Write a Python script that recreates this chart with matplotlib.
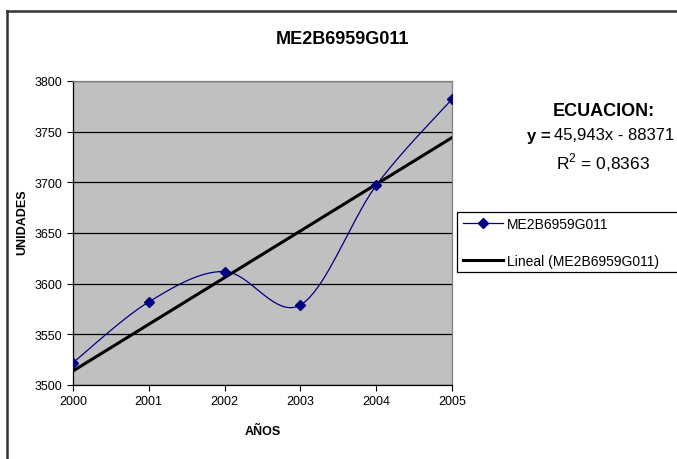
import numpy as np
import matplotlib
matplotlib.use("Agg")
import matplotlib.pyplot as plt
from matplotlib.lines import Line2D
from matplotlib.patches import Rectangle

plt.rcParams['font.family'] = ['Liberation Sans', 'DejaVu Sans']
plt.rcParams['mathtext.fontset'] = 'custom'
plt.rcParams['mathtext.rm'] = 'Liberation Sans'
plt.rcParams['mathtext.bf'] = 'Liberation Sans:bold'

title = "ME2B6959G011"
years = [2000, 2001, 2002, 2003, 2004, 2005]
values = [3522, 3582, 3612, 3579, 3697, 3782]
yticks = [3500, 3550, 3600, 3650, 3700, 3750, 3800]
series_label = "ME2B6959G011"
trend_label = "Lineal (ME2B6959G011)"
eq_header = "ECUACION:"
eq_text = "45,943x - 88371"
r2_text = "0,8363"


def smooth(xs, ys, n=40):
    # Excel-like smoothed line (Catmull-Rom Bezier)
    P = np.column_stack([xs, ys]).astype(float)
    Pext = np.vstack([P[0], P, P[-1]])
    out = []
    for i in range(len(P) - 1):
        p0, p1, p2, p3 = Pext[i], Pext[i + 1], Pext[i + 2], Pext[i + 3]
        c1 = p1 + (p2 - p0) / 6.0
        c2 = p2 - (p3 - p1) / 6.0
        t = np.linspace(0, 1, n)[:, None]
        seg = ((1 - t) ** 3) * p1 + 3 * ((1 - t) ** 2) * t * c1 + 3 * (1 - t) * t ** 2 * c2 + t ** 3 * p2
        out.append(seg if i == 0 else seg[1:])
    S = np.vstack(out)
    return S[:, 0], S[:, 1]


fig = plt.figure(figsize=(6.77, 4.6), dpi=100)
W, H = 677, 460
ax = fig.add_axes([73 / W, 1 - 386 / H, (452 - 73) / W, (386 - 82) / H])
ax.set_facecolor('#C0C0C0')

ax.set_xlim(2000, 2005)
ax.set_ylim(3500, 3800)
ax.set_xticks(years)
ax.set_xticklabels([str(y) for y in years])
ax.set_yticks(yticks)
ax.yaxis.grid(True, color='black', linewidth=0.9)
ax.set_axisbelow(True)
ax.tick_params(axis='both', labelsize=9, direction='out', length=4, width=0.8, color='black')

for s in ['top', 'right']:
    ax.spines[s].set_color('#808080')
    ax.spines[s].set_linewidth(0.9)
for s in ['left', 'bottom']:
    ax.spines[s].set_color('black')
    ax.spines[s].set_linewidth(0.9)

sx, sy = smooth(years, values)
ax.plot(sx, sy, color='#000080', linewidth=0.9, zorder=3)
ax.plot(years, values, linestyle='none', marker='D', markersize=5, color='#000080', zorder=4)

coef = np.polyfit(years, values, 1)
tx = np.array([years[0], years[-1]])
ax.plot(tx, np.polyval(coef, tx), color='black', linewidth=2.2, zorder=3)

fig.text(342 / W, 1 - 40 / H, title, ha='center', va='center', fontsize=13, fontweight='bold')
fig.text(263 / W, 1 - 432 / H, "AÑOS", ha='center', va='center', fontsize=9, fontweight='bold')
fig.text(22 / W, 1 - 222 / H, "UNIDADES", ha='center', va='center', fontsize=9, fontweight='bold', rotation=90)

fig.text(604 / W, 1 - 112 / H, eq_header, ha='center', va='center', fontsize=13, fontweight='bold')
fig.text(527 / W, 1 - 136 / H, "y =", ha='left', va='center', fontsize=12, fontweight='bold')
fig.text(554 / W, 1 - 136 / H, eq_text, ha='left', va='center', fontsize=12)
fig.text(603 / W, 1 - 163 / H, r"R$^{2}$ = " + r2_text, ha='center', va='center', fontsize=12.5)

# legend box (extends past right edge like the reference)
fig.add_artist(Rectangle((457 / W, 1 - 273 / H), 240 / W, 60 / H, transform=fig.transFigure,
                         facecolor='white', edgecolor='black', linewidth=0.9))
handles = [Line2D([0], [0], color='#000080', linewidth=0.9, marker='D', markersize=5),
           Line2D([0], [0], color='black', linewidth=2.2)]
leg = fig.legend(handles, [series_label, trend_label], loc='upper left',
                 bbox_to_anchor=(460 / W, 1 - 215 / H), fontsize=10, frameon=False,
                 handlelength=2.9, handletextpad=0.25,
                 borderpad=0.2, labelspacing=1.65, borderaxespad=0)

# outer chart frame
fig.add_artist(Line2D([7 / W, 7 / W], [0, 1 - 12 / H], transform=fig.transFigure, color='#333333', linewidth=1.8))
fig.add_artist(Line2D([7 / W, 1], [1 - 12 / H, 1 - 12 / H], transform=fig.transFigure, color='#333333', linewidth=1.8))

fig.savefig("out.png", dpi=100)
